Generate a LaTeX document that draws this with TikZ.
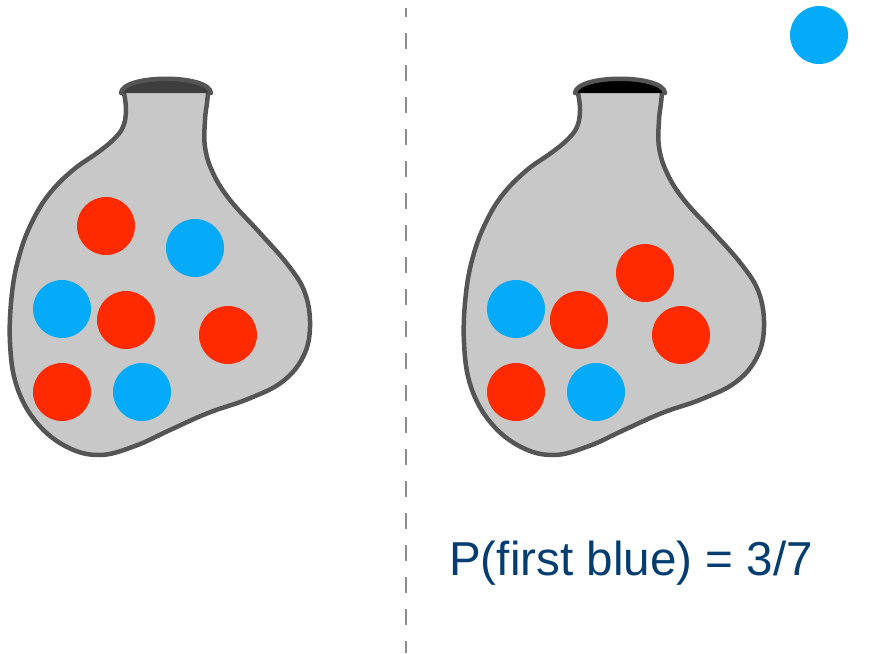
\documentclass[tikz,border=0pt]{standalone}
\usepackage{fontspec}
\setmainfont{Liberation Sans}
\usetikzlibrary{calc}

\definecolor{ballred}{RGB}{255,42,0}
\definecolor{ballblue}{RGB}{5,170,248}
\definecolor{bagfill}{RGB}{200,200,200}
\definecolor{bagline}{RGB}{85,85,85}
\definecolor{neckdark}{RGB}{62,62,62}
\definecolor{probblue}{RGB}{4,62,113}

\tikzset{
  ball/.style={circle, minimum size=58pt, inner sep=0pt, draw=none},
  redball/.style={ball, fill=ballred},
  blueball/.style={ball, fill=ballblue},
  bagedge/.style={draw=bagline, line width=4.5pt, line join=round, line cap=round},
  divider/.style={draw=black!45, line width=2.5pt, dash pattern=on 16pt off 16pt, dash phase=7pt}
}

% outline of one bag, open at the neck
\def\bagcurve{plot[smooth, tension=0.65] coordinates {
  (124,93) (126,110) (123,127) (113,140) (97,153) (73,170) (50,193)
  (33,220) (20,253) (12,293) (10,343) (17,387) (37,423) (67,447)
  (100,455) (135,446) (170,430) (208,413) (248,399) (282,382)
  (303,357) (310,327) (305,293) (288,265) (260,233) (230,200)
  (213,173) (205,147) (205,120) (207,103) (208,93)}}

% bag with its rim; #1 = shift, #2 = colour of the opening
\newcommand\drawbag[2]{
  \begin{scope}[shift={(#1,0)}]
    \fill[bagfill] \bagcurve -- cycle;
    \draw[bagedge] \bagcurve;
    \fill[#2] (121,93) .. controls (123,74) and (209,74) .. (211,93) -- cycle;
    \draw[bagedge] (121,93) .. controls (123,74) and (209,74) .. (211,93);
  \end{scope}
}

\begin{document}
\begin{tikzpicture}[x=1pt, y=-1pt]
  \useasboundingbox (0,0) rectangle (882,653);

  %%%%% left bag %%%%%
  \drawbag{0}{neckdark}
  \node[redball]  (l1) at (106,226) {};
  \node[blueball] (l2) at (195,248) {};
  \node[blueball] (l3) at (62,309) {};
  \node[redball]  (l4) at (126,320) {};
  \node[redball]  (l5) at (228,335) {};
  \node[redball]  (l6) at (62,392) {};
  \node[blueball] (l7) at (142,392) {};

  %%%%% divider %%%%%
  \coordinate (divtop) at (406,8);
  \coordinate (divbot) at (406,653);
  \draw[divider] (divtop) -- (divbot);

  %%%%% right bag, one blue drawn %%%%%
  \drawbag{454}{black}
  \node[blueball] (r1) at (516,309) {};
  \node[redball]  (r2) at (579,320) {};
  \node[redball]  (r3) at (645,273) {};
  \node[redball]  (r4) at (681,335) {};
  \node[redball]  (r5) at (516,392) {};
  \node[blueball] (r6) at (596,392) {};

  \node[blueball] (drawn) at (819,35) {};

  \node[anchor=base west, inner sep=0pt, text=probblue,
        font=\fontsize{47.6}{56}\selectfont] (prob) at (449,575) {P(first blue) = 3/7};
\end{tikzpicture}
\end{document}
